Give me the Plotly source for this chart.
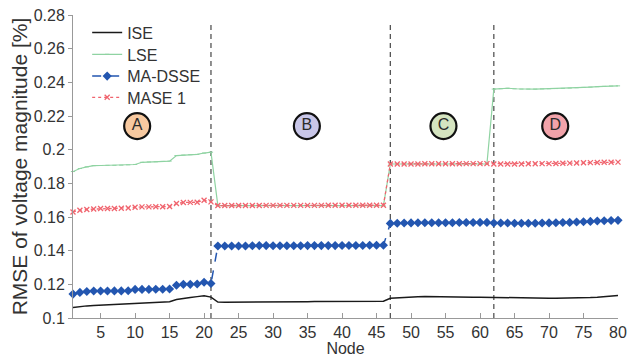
import plotly.graph_objects as go

nodes = list(range(1, 81))

ise = ([0.1062, 0.1068, 0.1072, 0.1075, 0.1077, 0.1079, 0.1081, 0.1082, 0.1084, 0.1086,
        0.1088, 0.1090, 0.1092, 0.1094, 0.1097, 0.1110, 0.1118, 0.1122, 0.1127, 0.1132,
        0.1124, 0.1095, 0.1093, 0.1093, 0.1094, 0.1096, 0.1097, 0.1097, 0.1097, 0.1097,
        0.1097, 0.1097, 0.1097, 0.1097, 0.1097, 0.1098, 0.1098, 0.1098, 0.1098, 0.1098,
        0.1098, 0.1098, 0.1098, 0.1099, 0.1099, 0.1100, 0.1117, 0.1120, 0.1123, 0.1125,
        0.1126, 0.1127, 0.1126, 0.1125, 0.1125, 0.1125, 0.1124, 0.1124, 0.1124, 0.1124,
        0.1123, 0.1121, 0.1120, 0.1119, 0.1118, 0.1117, 0.1117, 0.1117, 0.1117, 0.1117,
        0.1118, 0.1118, 0.1119, 0.1120, 0.1121, 0.1122, 0.1124, 0.1127, 0.1130, 0.1133])

lse = ([0.1870, 0.1888, 0.1898, 0.1905, 0.1906, 0.1907, 0.1907, 0.1908, 0.1910, 0.1912,
        0.1925, 0.1927, 0.1928, 0.1930, 0.1932, 0.1965, 0.1968, 0.1970, 0.1972, 0.1980,
        0.1985, 0.1668, 0.1668, 0.1668, 0.1668, 0.1668, 0.1668, 0.1668, 0.1668, 0.1668,
        0.1668, 0.1668, 0.1668, 0.1668, 0.1668, 0.1668, 0.1668, 0.1668, 0.1668, 0.1668,
        0.1668, 0.1668, 0.1668, 0.1668, 0.1668, 0.1668, 0.1915, 0.1915, 0.1915, 0.1915,
        0.1915, 0.1915, 0.1915, 0.1915, 0.1915, 0.1915, 0.1915, 0.1915, 0.1915, 0.1915,
        0.1915, 0.2360, 0.2362, 0.2365, 0.2362, 0.2360, 0.2360, 0.2360, 0.2361, 0.2362,
        0.2363, 0.2364, 0.2366, 0.2368, 0.2370, 0.2372, 0.2374, 0.2376, 0.2378, 0.2379])

ma_dsse = ([0.1142, 0.1152, 0.1157, 0.1160, 0.1160, 0.1160, 0.1161, 0.1161, 0.1162, 0.1170,
            0.1170, 0.1170, 0.1171, 0.1171, 0.1172, 0.1195, 0.1200, 0.1200, 0.1202, 0.1212,
            0.1205, 0.1428, 0.1428, 0.1428, 0.1428, 0.1428, 0.1429, 0.1430, 0.1430, 0.1429,
            0.1429, 0.1429, 0.1429, 0.1429, 0.1430, 0.1430, 0.1430, 0.1430, 0.1430, 0.1431,
            0.1431, 0.1431, 0.1431, 0.1432, 0.1432, 0.1432, 0.1562, 0.1563, 0.1564, 0.1565,
            0.1566, 0.1566, 0.1566, 0.1566, 0.1566, 0.1566, 0.1567, 0.1567, 0.1567, 0.1568,
            0.1568, 0.1564, 0.1564, 0.1564, 0.1563, 0.1563, 0.1563, 0.1563, 0.1564, 0.1565,
            0.1566, 0.1567, 0.1568, 0.1570, 0.1572, 0.1574, 0.1576, 0.1578, 0.1579, 0.1580])

mase1 = ([0.1630, 0.1640, 0.1645, 0.1648, 0.1650, 0.1650, 0.1651, 0.1652, 0.1653, 0.1658,
          0.1660, 0.1660, 0.1661, 0.1661, 0.1662, 0.1680, 0.1686, 0.1687, 0.1688, 0.1700,
          0.1690, 0.1668, 0.1668, 0.1668, 0.1668, 0.1668, 0.1668, 0.1668, 0.1669, 0.1669,
          0.1669, 0.1669, 0.1669, 0.1669, 0.1669, 0.1669, 0.1669, 0.1670, 0.1670, 0.1670,
          0.1670, 0.1670, 0.1670, 0.1670, 0.1670, 0.1670, 0.1915, 0.1915, 0.1915, 0.1915,
          0.1915, 0.1916, 0.1916, 0.1916, 0.1916, 0.1916, 0.1916, 0.1917, 0.1917, 0.1917,
          0.1917, 0.1915, 0.1915, 0.1915, 0.1915, 0.1915, 0.1916, 0.1916, 0.1917, 0.1917,
          0.1918, 0.1919, 0.1920, 0.1921, 0.1922, 0.1923, 0.1924, 0.1925, 0.1925, 0.1926])

boundaries = [21, 47, 62]
boundary_top = 0.276
region_labels = ["A", "B", "C", "D"]
region_x = [10.3, 34.9, 54.7, 70.9]
region_y = [0.214, 0.214, 0.214, 0.214]
region_fill = ["#f7c9a0", "#c8c6e8", "#d5e4c0", "#f2a3aa"]

x_ticks = [5, 10, 15, 20, 25, 30, 35, 40, 45, 50, 55, 60, 65, 70, 75, 80]
y_ticks = [0.1, 0.12, 0.14, 0.16, 0.18, 0.2, 0.22, 0.24, 0.26, 0.28]
y_ticktext = ["0.1", "0.12", "0.14", "0.16", "0.18", "0.2", "0.22", "0.24", "0.26", "0.28"]

FONT = "Liberation Sans, Arial, sans-serif"
TXT = "#333333"

fig = go.Figure()

fig.add_trace(go.Scatter(x=nodes, y=ise, name="ISE", mode="lines", legend="legend",
                         line=dict(color="#1a1a1a", width=1.5), cliponaxis=False))
fig.add_trace(go.Scatter(x=nodes, y=lse, name="LSE", mode="lines+markers", legend="legend2",
                         line=dict(color="#8fd3a2", width=1.2),
                         marker=dict(symbol="line-ew", size=3, color="#8fd3a2",
                                     line=dict(color="#8fd3a2", width=1)),
                         cliponaxis=False))
fig.add_trace(go.Scatter(x=nodes, y=ma_dsse, name="MA-DSSE", mode="lines+markers", legend="legend3",
                         line=dict(color="#2356b0", width=1.5, dash="dash"),
                         marker=dict(symbol="diamond", size=7, color="#2356b0"),
                         cliponaxis=False))
fig.add_trace(go.Scatter(x=nodes, y=mase1, name="MASE 1", mode="lines+markers", legend="legend4",
                         line=dict(color="#f0646e", width=1.3, dash="dot"),
                         marker=dict(symbol="x-thin", size=5, color="#f0646e",
                                     line=dict(color="#f0646e", width=1.3)),
                         cliponaxis=False))

for b in boundaries:
    fig.add_shape(type="line", xref="x", yref="y", x0=b, x1=b, y0=0.1, y1=boundary_top,
                  line=dict(color="#555555", width=1.3, dash="5px,4px"), layer="below")

fig.add_trace(go.Scatter(x=region_x, y=region_y, mode="markers+text", text=region_labels,
                         textposition="middle center", showlegend=False, hoverinfo="skip",
                         marker=dict(size=26, color=region_fill, line=dict(color="#111111", width=2.2)),
                         textfont=dict(family=FONT, size=16, color="#2a2a2a"),
                         cliponaxis=False))

def leg(y):
    return dict(x=0.026, y=y, xanchor="left", yanchor="middle",
                bgcolor="rgba(0,0,0,0)", font=dict(size=16, color=TXT), itemwidth=30)

fig.update_layout(
    width=640, height=357,
    margin=dict(l=73, r=22, t=15, b=39, autoexpand=False),
    paper_bgcolor="white", plot_bgcolor="white",
    font=dict(family=FONT, size=16, color=TXT),
    showlegend=True,
    legend=leg(0.942),
    legend2=leg(0.870),
    legend3=leg(0.798),
    legend4=leg(0.728),
)

fig.update_xaxes(range=[1, 80], tickvals=x_ticks, ticks="inside", ticklen=5,
                 tickcolor="#999999", showline=True, linecolor="#999999", linewidth=1,
                 showgrid=False, zeroline=False, mirror=False,
                 tickfont=dict(size=16, color=TXT),
                 title=dict(text="Node", font=dict(size=16, color=TXT), standoff=3))
fig.update_yaxes(range=[0.1, 0.28], tickvals=y_ticks, ticktext=y_ticktext, ticks="outside",
                 ticklen=4, tickcolor="#999999", showline=True, linecolor="#999999", linewidth=1,
                 showgrid=False, zeroline=False,
                 tickfont=dict(size=16, color=TXT),
                 title=dict(text="RMSE of voltage magnitude [%]", font=dict(size=21, color=TXT),
                            standoff=0))

fig.write_html("out.html", config={"displayModeBar": False},
               post_script="document.body.style.margin='0';")
